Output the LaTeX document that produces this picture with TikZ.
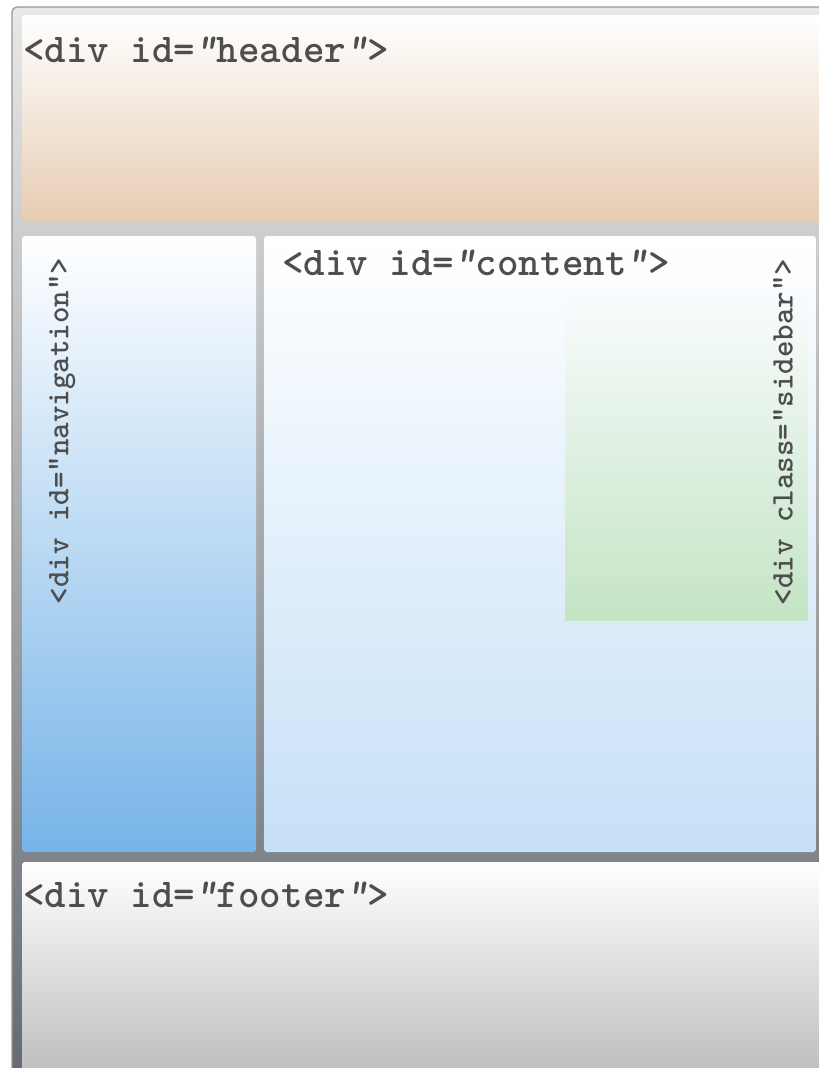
\documentclass[tikz,border=0pt]{standalone}
\usepackage{fontspec}
\definecolor{frametop}{RGB}{232,232,232}
\definecolor{framebot}{RGB}{100,106,112}
\definecolor{frameline}{RGB}{150,150,150}
\definecolor{headbot}{RGB}{230,204,178}
\definecolor{navbot}{RGB}{118,180,232}
\definecolor{contbot}{RGB}{198,224,246}
\definecolor{sidebot}{RGB}{196,228,196}
\definecolor{footbot}{RGB}{188,188,188}
\definecolor{codetext}{RGB}{78,78,78}
\newcommand{\slq}{{\slshape"}}
\tikzset{
  panel/.style={rounded corners=3bp},
  bigcode/.style={font=\ttfamily\bfseries\fontsize{41bp}{44bp}\selectfont, text=codetext, inner sep=0pt},
  smallcode/.style={font=\ttfamily\bfseries\fontsize{31.4bp}{34bp}\selectfont, text=codetext, inner sep=0pt, rotate=90}
}
\begin{document}
\begin{tikzpicture}[x=1bp,y=-1bp]
\useasboundingbox (0,0) rectangle (819,1068);
\fill[white] (0,0) rectangle (819,1068);
% outer frame
\path[top color=frametop, bottom color=framebot, draw=frameline, line width=1.2bp, rounded corners=5bp]
  (12,7) rectangle (830,1080);
% header
\path[panel, top color=white, bottom color=headbot] (22,15) rectangle (822,222);
% navigation
\path[panel, top color=white, bottom color=navbot] (22,236) rectangle (256,852);
% content
\path[panel, top color=white, bottom color=contbot] (264,236) rectangle (816,852);
% sidebar
\path[top color=contbot!10, bottom color=sidebot] (565,290) rectangle (808,620);
% footer
\path[panel, top color=white, bottom color=footbot] (22,862) rectangle (822,1080);
% labels
\node[bigcode, anchor=base west] (headertext) at (23,62) {<div id=\slq header\slq>};
\node[bigcode, anchor=base west] (contenttext) at (282,275) {<div id=\slq content\slq>};
\node[bigcode, anchor=base west] (footertext) at (23,907) {<div id=\slq footer\slq>};
\node[smallcode] (navtext) at (62,431) {<div id="navigation">};
\node[smallcode] (sidetext) at (783,432) {<div class="sidebar">};
\end{tikzpicture}
\end{document}
